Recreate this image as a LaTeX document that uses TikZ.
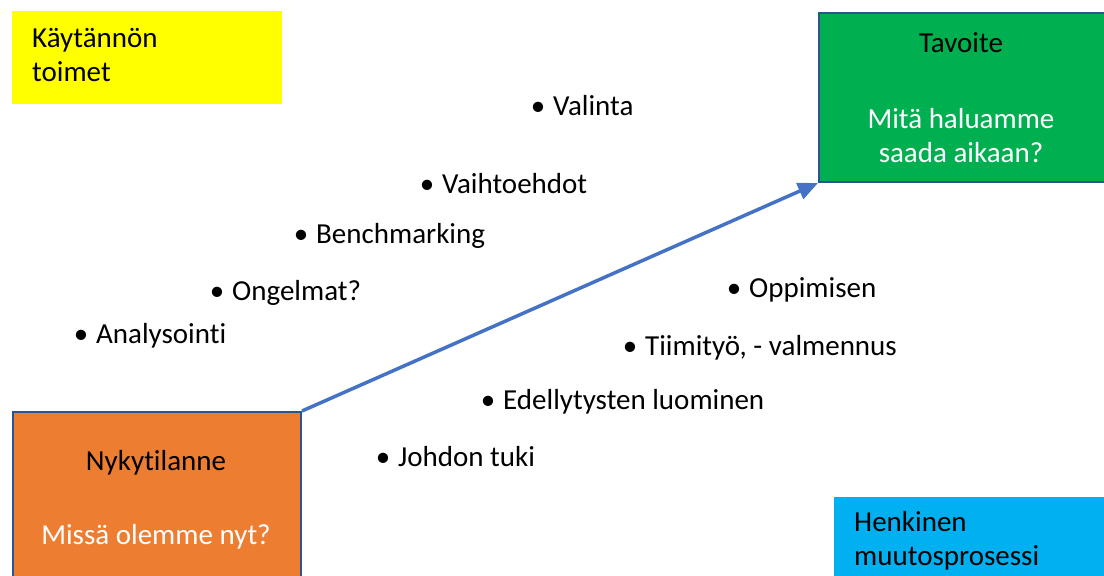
\documentclass[tikz,border=0pt]{standalone}
\usepackage{fontspec}
\setmainfont{Carlito}[Ligatures={NoCommon,NoRequired,NoContextual}]
\usetikzlibrary{arrows.meta}

\definecolor{tavgreen}{HTML}{00B050}
\definecolor{nykorange}{HTML}{ED7D31}
\definecolor{henkblue}{HTML}{00B0F0}
\definecolor{kayyellow}{HTML}{FFFF00}
\definecolor{edgeblue}{HTML}{2F528F}
\definecolor{arrowblue}{HTML}{4472C4}

\begin{document}
\begin{tikzpicture}[x=1pt, y=-1pt,
    font=\fontsize{29}{34}\selectfont,
    box/.style={draw=edgeblue, line width=2pt, inner sep=0pt, anchor=north west},
    plainbox/.style={inner sep=0pt, anchor=north west},
    label/.style={inner sep=0pt, anchor=base},
    leftlabel/.style={inner sep=0pt, anchor=base west, align=left},
    item/.style={inner sep=0pt, anchor=base west}]
    \useasboundingbox (0,0) rectangle (1104,576);

    % boxes
    \node[plainbox, fill=kayyellow, minimum width=270, minimum height=93] (kaytannon) at (12,11) {};
    \node[box, fill=tavgreen, minimum width=300, minimum height=169] (tavoite) at (818,12) {};
    \node[box, fill=nykorange, minimum width=288, minimum height=180] (nykytilanne) at (12,411) {};
    \node[plainbox, fill=henkblue, minimum width=280, minimum height=90] (henkinen) at (834,497) {};

    % box texts (base = last line)
    \node[leftlabel] (kaytannonText) at (32,81) {Käytännön\\toimet};
    \node[label] (tavoiteTitle) at (961,52) {Tavoite};
    \node[label, text=white, align=center] (tavoiteText) at (961,162) {Mitä haluamme\\saada aikaan?};
    \node[label] (nykyTitle) at (156,470) {Nykytilanne};
    \node[label, text=white] (nykyText) at (156,544) {Missä olemme nyt?};
    \node[leftlabel] (henkText) at (854,565) {Henkinen\\muutosprosessi};

    % arrow
    \draw[arrowblue, line width=3.5pt, -{Triangle[length=20pt, width=17pt]}] (nykytilanne.north east) -- (tavoite.south west);

    % bullet items
    \node[item] (valinta) at (553,115) {\llap{\textbullet\hspace{8pt}}Valinta};
    \node[item] (vaihtoehdot) at (442,193) {\llap{\textbullet\hspace{8pt}}Vaihtoehdot};
    \node[item] (benchmarking) at (316,243) {\llap{\textbullet\hspace{8pt}}Benchmarking};
    \node[item] (ongelmat) at (232,300) {\llap{\textbullet\hspace{8pt}}Ongelmat?};
    \node[item] (analysointi) at (96,343) {\llap{\textbullet\hspace{8pt}}Analysointi};
    \node[item] (oppimisen) at (749,297) {\llap{\textbullet\hspace{8pt}}Oppimisen};
    \node[item] (tiimityo) at (645,355) {\llap{\textbullet\hspace{8pt}}Tiimityö, - valmennus};
    \node[item] (edellytysten) at (503,409) {\llap{\textbullet\hspace{8pt}}Edellytysten luominen};
    \node[item] (johdon) at (398,466) {\llap{\textbullet\hspace{8pt}}Johdon tuki};
\end{tikzpicture}
\end{document}
